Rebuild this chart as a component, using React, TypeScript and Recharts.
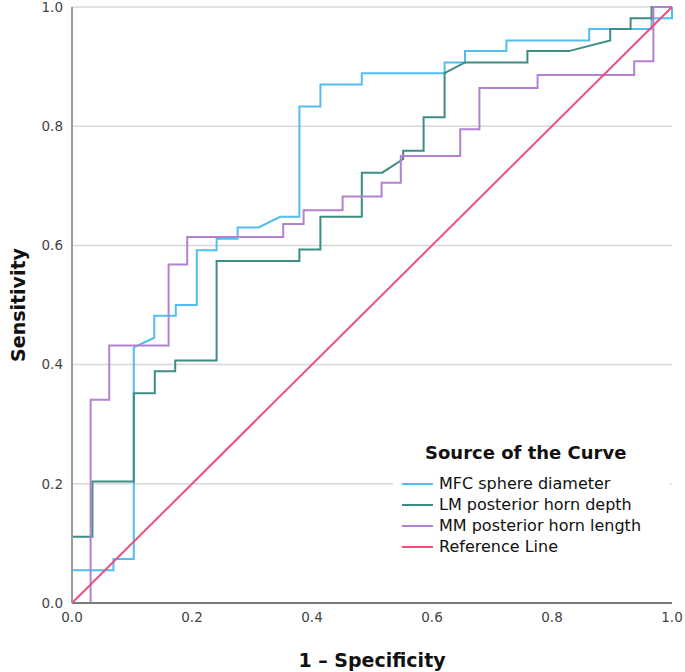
import React from "react"
import { LineChart, Line, XAxis, YAxis, CartesianGrid, Legend, Label } from "recharts"

// ROC curve vertices (1 - specificity, sensitivity)
const mfcFpr = [0, 0, 0.069, 0.069, 0.103, 0.103, 0.137, 0.137, 0.173, 0.173, 0.208, 0.208, 0.241, 0.241, 0.276, 0.276, 0.311, 0.347, 0.379, 0.379, 0.414, 0.414, 0.483, 0.483, 0.621, 0.621, 0.655, 0.655, 0.724, 0.724, 0.862, 0.862, 0.966, 0.966, 1.0, 1.0]
const mfcTpr = [0, 0.055, 0.055, 0.074, 0.074, 0.429, 0.445, 0.482, 0.482, 0.5, 0.5, 0.592, 0.592, 0.611, 0.611, 0.63, 0.63, 0.648, 0.648, 0.833, 0.833, 0.87, 0.87, 0.889, 0.889, 0.907, 0.907, 0.926, 0.926, 0.944, 0.944, 0.963, 0.963, 0.981, 0.981, 1.0]

const lmFpr = [0, 0, 0.034, 0.034, 0.103, 0.103, 0.138, 0.138, 0.172, 0.172, 0.241, 0.241, 0.379, 0.379, 0.414, 0.414, 0.483, 0.483, 0.517, 0.552, 0.552, 0.586, 0.586, 0.621, 0.621, 0.655, 0.759, 0.759, 0.828, 0.897, 0.897, 0.931, 0.931, 0.966, 0.966, 1.0]
const lmTpr = [0, 0.111, 0.111, 0.204, 0.204, 0.352, 0.352, 0.389, 0.389, 0.407, 0.407, 0.574, 0.574, 0.593, 0.593, 0.648, 0.648, 0.722, 0.722, 0.745, 0.759, 0.759, 0.815, 0.815, 0.889, 0.907, 0.907, 0.926, 0.926, 0.944, 0.963, 0.963, 0.981, 0.981, 1.0, 1.0]

const mmFpr = [0, 0.031, 0.031, 0.062, 0.062, 0.161, 0.161, 0.192, 0.192, 0.352, 0.352, 0.386, 0.386, 0.451, 0.451, 0.516, 0.516, 0.548, 0.548, 0.647, 0.647, 0.679, 0.679, 0.776, 0.776, 0.937, 0.937, 0.969, 0.969, 1.0]
const mmTpr = [0, 0, 0.341, 0.341, 0.432, 0.432, 0.568, 0.568, 0.614, 0.614, 0.636, 0.636, 0.659, 0.659, 0.682, 0.682, 0.705, 0.705, 0.75, 0.75, 0.795, 0.795, 0.864, 0.864, 0.886, 0.886, 0.909, 0.909, 1.0, 1.0]

const refFpr = [0, 1]
const refTpr = [0, 1]

const axisTicks = [0, 0.2, 0.4, 0.6, 0.8, 1.0]

const zip = (xs: number[], ys: number[]) => xs.map((fpr, i) => ({ fpr, tpr: ys[i] }))

const series = [
  { name: "MFC sphere diameter", color: "#52bdf0", data: zip(mfcFpr, mfcTpr) },
  { name: "LM posterior horn depth", color: "#3d8c86", data: zip(lmFpr, lmTpr) },
  { name: "MM posterior horn length", color: "#b481d0", data: zip(mmFpr, mmTpr) },
  { name: "Reference Line", color: "#ee4f7a", data: zip(refFpr, refTpr) },
]

const font = "'DejaVu Sans', sans-serif"

// legend keeps the series order (recharts would sort it by name)
function CurveLegend() {
  return (
    <div style={{ fontFamily: font, background: "#fff", color: "#111" }}>
      <div style={{ fontWeight: "bold", fontSize: 18, height: 26, lineHeight: "26px", paddingLeft: 32, marginBottom: 7 }}>
        Source of the Curve
      </div>
      {series.map((s) => (
        <div key={s.name} style={{ display: "flex", alignItems: "center", height: 21, fontSize: 16 }}>
          <svg width={31} height={4} style={{ marginLeft: 9, marginRight: 6 }}>
            <line x1={0} y1={2} x2={31} y2={2} stroke={s.color} strokeWidth={2} />
          </svg>
          <span>{s.name}</span>
        </div>
      ))}
    </div>
  )
}

export default function App() {
  return (
    <div style={{ position: "absolute", left: 0, top: 0 }}>
      <LineChart width={685} height={672} margin={{ top: 7, right: 13, bottom: 0, left: 0 }}>
        <CartesianGrid vertical={false} stroke="#d8d8d8" strokeWidth={1.5} />
        <XAxis
          type="number"
          dataKey="fpr"
          domain={[0, 1]}
          ticks={axisTicks}
          interval={0}
          tickFormatter={(v: number) => v.toFixed(1)}
          height={69}
          tickLine={false}
          tickMargin={3}
          axisLine={{ stroke: "#7a7a7a", strokeWidth: 2 }}
          tick={{ fill: "#444", fontSize: 13.5, fontFamily: font }}
        >
          <Label value="1 – Specificity" position="insideBottom" offset={5} style={{ fontFamily: font, fontWeight: "bold", fontSize: 19, fill: "#111" }} />
        </XAxis>
        <YAxis
          type="number"
          dataKey="tpr"
          domain={[0, 1]}
          ticks={axisTicks}
          interval={0}
          tickFormatter={(v: number) => v.toFixed(1)}
          width={72}
          tickLine={false}
          tickMargin={3}
          axisLine={{ stroke: "#9a9a9a", strokeWidth: 2 }}
          tick={{ fill: "#444", fontSize: 13.5, fontFamily: font }}
        >
          <Label value="Sensitivity" angle={-90} position="insideLeft" offset={18} style={{ textAnchor: "middle", fontFamily: font, fontWeight: "bold", fontSize: 19, fill: "#111" }} />
        </YAxis>
        <Legend
          layout="horizontal"
          verticalAlign="middle"
          align="center"
          content={<CurveLegend />}
          wrapperStyle={{ left: 393, top: 440, width: 277 }}
        />
        {series.map((s) => (
          <Line
            key={s.name}
            name={s.name}
            data={s.data}
            dataKey="tpr"
            type="linear"
            stroke={s.color}
            strokeWidth={2}
            dot={false}
            activeDot={false}
            isAnimationActive={false}
          />
        ))}
      </LineChart>
    </div>
  )
}
